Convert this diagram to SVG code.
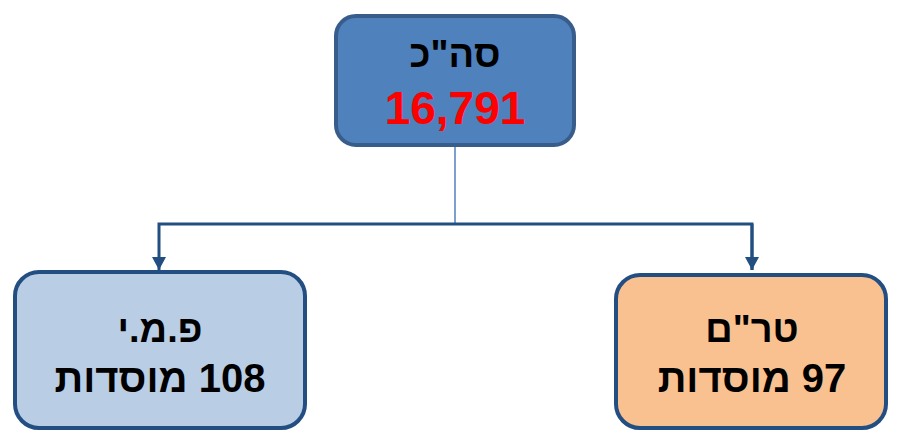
<svg xmlns="http://www.w3.org/2000/svg" width="897" height="433" viewBox="0 0 897 433">
<defs>
<style>
.t{font-family:"Liberation Sans",Arial,sans-serif;font-weight:bold;text-anchor:middle;direction:rtl;unicode-bidi:embed}
.box{stroke-width:4}
.conn{fill:none;stroke:#234E82;stroke-width:3}
</style>
<marker id="arr" markerWidth="14" markerHeight="13" refX="7" refY="13" orient="0" markerUnits="userSpaceOnUse">
<path d="M0,0 L14,0 L7,13 Z" fill="#234E82"/>
</marker>
</defs>
<rect width="897" height="433" fill="#ffffff"/>
<g id="connectors">
<line x1="455" y1="147" x2="455" y2="224" stroke="#4F81BD" stroke-width="1.5"/>
<path class="conn" d="M159,270 V224 H752 V270" marker-start="url(#arr)"/>
<path class="conn" d="M752,224 V270" marker-end="url(#arr)"/>
</g>
<g id="total">
<rect class="box" x="336" y="16" width="238" height="129" rx="20" fill="#4F81BD" stroke="#385D8A"/>
<text class="t" x="455" y="67" font-size="38" fill="#000">סה"כ</text>
<text class="t" x="455" y="124" font-size="46" fill="#FF0000">16,791</text>
</g>
<g id="pmy">
<rect class="box" x="15" y="272" width="290" height="156" rx="24" fill="#B9CDE5" stroke="#234E82"/>
<text class="t" x="160" y="342" font-size="38" fill="#000">פ.מ.י</text>
<text class="t" x="160" y="392" font-size="40" fill="#000">108 מוסדות</text>
</g>
<g id="trm">
<rect class="box" x="616" y="275" width="270" height="153" rx="24" fill="#F9C090" stroke="#234E82"/>
<text class="t" x="752" y="342" font-size="38" fill="#000">טר"ם</text>
<text class="t" x="752" y="392" font-size="40" fill="#000">97 מוסדות</text>
</g>
</svg>
